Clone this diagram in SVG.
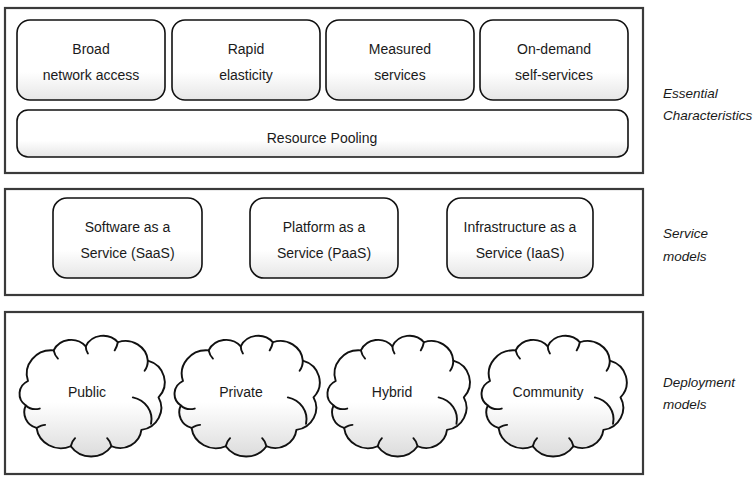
<svg xmlns="http://www.w3.org/2000/svg" xmlns:xlink="http://www.w3.org/1999/xlink" width="755" height="477" viewBox="0 0 755 477">
<style>
.outer{fill:#fff;stroke:#3a3a3a;stroke-width:2.2}
.box{fill:url(#boxg);stroke:#111;stroke-width:1.6}
.cloud{fill:url(#cloudg);stroke:#111;stroke-width:1.8;stroke-linejoin:round}
.hook{fill:none;stroke:#111;stroke-width:1.8;stroke-linecap:round}
.t{font-family:"Liberation Sans",Arial,sans-serif;font-size:14px;fill:#1a1a1a;text-anchor:middle}
.lab{font-family:"Liberation Sans",Arial,sans-serif;font-size:13.5px;font-style:italic;fill:#1a1a1a}
</style>
<defs>
<linearGradient id="boxg" x1="0" y1="0" x2="0" y2="1">
<stop offset="0" stop-color="#fff"/><stop offset="0.65" stop-color="#fff"/><stop offset="1" stop-color="#e6e6e6"/>
</linearGradient>
<linearGradient id="cloudg" x1="0" y1="0" x2="0" y2="1">
<stop offset="0" stop-color="#fff"/><stop offset="0.55" stop-color="#fff"/><stop offset="1" stop-color="#dcdcdc"/>
</linearGradient>
<g id="cloudshape">
<path class="cloud" d="M14 50 A23 23 0 0 1 38 20 A18 18 0 0 1 68 16 A18 18 0 0 1 98 12 A21 21 0 0 1 126 30 A22 22 0 0 1 136 66 A22 22 0 0 1 120 98 A20 20 0 0 1 92 114 A23 23 0 0 1 54 114 A23 23 0 0 1 22 96 A16 16 0 0 1 12 74 A14 14 0 0 1 14 50 Z"/>
<path class="hook" d="M12 74 Q17 79 25 77"/>
<path class="hook" d="M112 66 A22 22 0 0 1 129 92"/>
<path class="hook" d="M38 20 Q39 25 42 28"/>
<path class="hook" d="M68 16 Q68 20 70 23"/>
<path class="hook" d="M98 12 Q97 17 95 20"/>
<path class="hook" d="M126 30 Q126 36 123 40"/>
<path class="hook" d="M92 114 Q91 109 88 106"/>
<path class="hook" d="M54 114 Q55 109 58 106"/>
<path class="hook" d="M22 96 Q27 93 30 93"/>
</g>
</defs>

<g id="essential">
<rect class="outer" x="5" y="8" width="638" height="165"/>
<g id="broad"><rect class="box" x="17" y="20" width="148" height="80" rx="13"/><text class="t" x="91" y="54">Broad</text><text class="t" x="91" y="80">network access</text></g>
<g id="rapid"><rect class="box" x="172" y="20" width="148" height="80" rx="13"/><text class="t" x="246" y="54">Rapid</text><text class="t" x="246" y="80">elasticity</text></g>
<g id="measured"><rect class="box" x="326" y="20" width="148" height="80" rx="13"/><text class="t" x="400" y="54">Measured</text><text class="t" x="400" y="80">services</text></g>
<g id="ondemand"><rect class="box" x="480" y="20" width="148" height="80" rx="13"/><text class="t" x="554" y="54">On-demand</text><text class="t" x="554" y="80">self-services</text></g>
<g id="pooling"><rect class="box" x="17" y="110" width="611" height="47" rx="11"/><text class="t" x="322" y="143">Resource Pooling</text></g>
<text class="lab" x="663" y="98">Essential</text><text class="lab" x="663" y="120">Characteristics</text>
</g>

<g id="service">
<rect class="outer" x="5" y="189" width="638" height="106"/>
<g id="saas"><rect class="box" x="53" y="198" width="149" height="80" rx="14"/><text class="t" x="127.5" y="232">Software as a</text><text class="t" x="127.5" y="258">Service (SaaS)</text></g>
<g id="paas"><rect class="box" x="250" y="198" width="148" height="80" rx="14"/><text class="t" x="324" y="232">Platform as a</text><text class="t" x="324" y="258">Service (PaaS)</text></g>
<g id="iaas"><rect class="box" x="447" y="198" width="146" height="80" rx="14"/><text class="t" x="520" y="232">Infrastructure as a</text><text class="t" x="520" y="258">Service (IaaS)</text></g>
<text class="lab" x="663" y="238">Service</text><text class="lab" x="663" y="261">models</text>
</g>

<g id="deployment">
<rect class="outer" x="5" y="312" width="638" height="162"/>
<g id="public"><use xlink:href="#cloudshape" transform="translate(13,330) scale(1.07,1.02)"/><text class="t" x="87" y="397">Public</text></g>
<g id="private"><use xlink:href="#cloudshape" transform="translate(168,330) scale(1.07,1.02)"/><text class="t" x="241" y="397">Private</text></g>
<g id="hybrid"><use xlink:href="#cloudshape" transform="translate(321,330) scale(1.05,1.02)"/><text class="t" x="392" y="397">Hybrid</text></g>
<g id="community"><use xlink:href="#cloudshape" transform="translate(475,330) scale(1.07,1.02)"/><text class="t" x="548" y="397">Community</text></g>
<text class="lab" x="663" y="387">Deployment</text><text class="lab" x="663" y="409">models</text>
</g>

<g id="connectors"/>
</svg>
